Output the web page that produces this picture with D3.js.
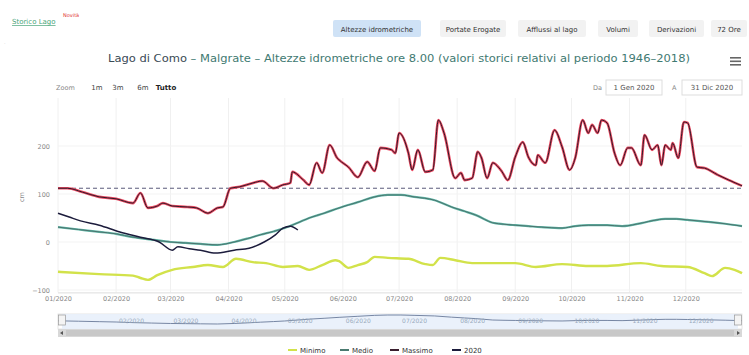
<!DOCTYPE html>
<html><head><meta charset="utf-8">
<script src="https://cdn.jsdelivr.net/npm/d3@7"></script>
<style>body{margin:0;background:#fff}svg{display:block;font-family:"DejaVu Sans",Verdana,sans-serif}</style>
</head><body><svg id="c" width="749" height="355"></svg>
<script>
// ---- data (day offset from 1 Jan 2020, value in cm) ----
const maxDays = [0,5,13,22,31,40,44,48,53,56,61,69,74,80,85,88,92,97,104,109,115,120,124,125,131,134,138,141,145,149,150,155,160,165,169,172,178,180,182,187,189,192,196,200,203,206,212,215,217,221,224,226,229,232,235,237,240,244,248,251,255,256,260,265,269,273,276,280,283,285,288,290,293,297,300,304,306,311,313,317,320,322,324,327,328,331,334,336,341,345,352,358,365];
const maxVals = [112,112,104,94,90,81,102,71,75,81,75,73,71,60,71,73,112,115,123,127,112,119,123,146,129,119,165,144,202,175,171,156,135,167,148,196,192,185,227,185,150,192,146,150,254,227,133,144,129,133,188,175,133,165,156,146,129,177,208,177,160,181,165,233,198,150,175,254,227,244,227,254,248,185,160,196,196,160,223,192,202,160,202,192,206,175,250,248,156,154,140,129,117];
const medDays = [0,11,22,31,40,50,60,68,76,85,94,101,108,115,121,128,134,142,150,160,169,176,183,190,201,210,217,223,232,238,244,251,258,269,276,283,293,301,312,318,324,330,336,347,356,365];
const medVals = [31,26,21,17,10,5,0,-2,-4,-6,0,7,15,22,29,40,50,60,71,83,94,98,98,94,87,73,64,56,40,37,35,33,31,29,33,35,35,33,40,45,48,48,46,42,38,33];
const minDays = [0,22,40,44,48,53,61,72,80,88,95,104,111,120,128,134,141,148,150,155,160,165,169,176,187,196,200,204,212,221,232,244,255,269,283,293,311,322,336,345,349,356,361,365];
const minVals = [-62,-67,-70,-75,-79,-69,-58,-52,-48,-52,-35,-42,-44,-52,-50,-58,-48,-38,-40,-54,-48,-42,-31,-33,-35,-46,-48,-33,-38,-44,-44,-44,-52,-46,-50,-50,-44,-50,-52,-65,-71,-54,-58,-65];
const curDays = [0,6,12,22,33,44,54,61,64,70,76,84,94,102,110,116,120,124,128];
const curVals = [60,52,44,35,21,10,0,-17,-10,-14,-17,-23,-17,-13,0,15,29,33,25];
const refLevel = 112;
const yTicks = [-100,0,100,200];
const monthLabels = ["01/2020","02/2020","03/2020","04/2020","05/2020","06/2020","07/2020","08/2020","09/2020","10/2020","11/2020","12/2020"];
const tabs = ["Altezze idrometriche","Portate Erogate","Afflussi al lago","Volumi","Derivazioni","72 Ore"];
const zoomBtns = ["1m","3m","6m","Tutto"];
const legendNames = ["Minimo","Medio","Massimo","2020"];
const titleStart = "Lago di Como";
const titleRest = " – Malgrate – Altezze idrometriche ore 8.00 (valori storici relativi al periodo 1946–2018)";

const base = new Date(2020,0,1);
const toSeries = (days, vals) => days.map((d,i)=>({date:d3.timeDay.offset(base,d), v:vals[i]}));
const sMax = toSeries(maxDays,maxVals), sMed = toSeries(medDays,medVals),
      sMin = toSeries(minDays,minVals), sCur = toSeries(curDays,curVals);

const svg = d3.select("#c");
svg.append("rect").attr("width",749).attr("height",355).attr("fill","#fff");

const L=58, R=742, T=98, B=292.4;
const x = d3.scaleTime().domain([base,new Date(2020,11,31)]).range([L,R]);
const y = d3.scaleLinear().domain([-105,300]).range([B,T]);

// header
svg.append("text").attr("x",12).attr("y",24).attr("font-size",7).attr("fill","#4aa57a")
  .attr("text-decoration","underline").text("Storico Lago");
svg.append("text").attr("x",63).attr("y",17).attr("font-size",5).attr("fill","#e03030").text("Novità");
svg.append("text").attr("x",4).attr("y",45).attr("font-size",5).attr("fill","#ccc").text("·");

const tabX = [333,440,518,598,649,711], tabW=[88,66,68,40,55,36];
tabs.forEach((t,i)=>{
  const g = svg.append("g");
  g.append("rect").attr("x",tabX[i]).attr("y",20).attr("width",tabW[i]).attr("height",17).attr("rx",2)
    .attr("fill", i===0?"#cfe2f6":"#f2f2f2");
  g.append("text").attr("x",tabX[i]+tabW[i]/2).attr("y",31.5).attr("text-anchor","middle")
    .attr("font-size",7).attr("fill","#333").text(t);
});

// title
const title = svg.append("text").attr("x",399).attr("y",62).attr("text-anchor","middle")
  .attr("font-size",11).attr("fill","#3f7a72");
title.append("tspan").attr("fill","#3a4a55").text(titleStart);
title.append("tspan").text(titleRest);
title.attr("textLength",582).attr("lengthAdjust","spacingAndGlyphs");

// hamburger
[0,3.5,7].forEach(o=>svg.append("rect").attr("x",730).attr("y",57+o).attr("width",11).attr("height",1.6).attr("fill","#666"));

// range selector
svg.append("text").attr("x",56).attr("y",90).attr("font-size",6.5).attr("fill","#888").text("Zoom");
const zx=[97,118,143,166];
zoomBtns.forEach((b,i)=>svg.append("text").attr("x",zx[i]).attr("y",90).attr("text-anchor","middle")
  .attr("font-size",7).attr("font-weight", i===3?"bold":"normal").attr("fill", i===3?"#222":"#444").text(b));
svg.append("text").attr("x",593).attr("y",90).attr("font-size",6.5).attr("fill","#888").text("Da");
svg.append("rect").attr("x",606).attr("y",80).attr("width",56).attr("height",15).attr("fill","#fff").attr("stroke","#ddd");
svg.append("text").attr("x",634).attr("y",90).attr("text-anchor","middle").attr("font-size",7).attr("fill","#555").text("1 Gen 2020");
svg.append("text").attr("x",672).attr("y",90).attr("font-size",6.5).attr("fill","#888").text("A");
svg.append("rect").attr("x",682).attr("y",80).attr("width",60).attr("height",15).attr("fill","#fff").attr("stroke","#ddd");
svg.append("text").attr("x",712).attr("y",90).attr("text-anchor","middle").attr("font-size",7).attr("fill","#555").text("31 Dic 2020");

// grid
const months = d3.timeMonth.range(base,new Date(2020,11,31));
svg.append("g").selectAll("line").data(months).join("line")
  .attr("x1",d=>x(d)).attr("x2",d=>x(d)).attr("y1",T).attr("y2",B).attr("stroke","#f0f0f0");
svg.append("g").selectAll("line").data(yTicks).join("line")
  .attr("x1",L).attr("x2",R).attr("y1",d=>y(d)).attr("y2",d=>y(d)).attr("stroke","#f3f3f3");

// y axis labels
const ya = svg.append("g").attr("transform",`translate(${L-8},0)`)
  .call(d3.axisLeft(y).tickValues(yTicks).tickSize(0).tickPadding(0));
ya.select(".domain").remove();
ya.selectAll("text").attr("font-size",6.5).attr("fill","#888").attr("font-family","DejaVu Sans");
svg.append("text").attr("transform","translate(24,197) rotate(-90)").attr("text-anchor","middle")
  .attr("font-size",6.5).attr("fill","#888").text("cm");

// x axis
svg.append("line").attr("x1",L).attr("x2",R).attr("y1",B+0.5).attr("y2",B+0.5).attr("stroke","#ddd");
const xa = svg.append("g").attr("transform",`translate(0,${B})`)
  .call(d3.axisBottom(x).tickValues(months).tickSize(0).tickPadding(4).tickFormat((d,i)=>monthLabels[i]));
xa.select(".domain").remove();
xa.selectAll("text").attr("font-size",6.5).attr("fill","#888").attr("font-family","DejaVu Sans");

// reference dashed line
svg.append("line").attr("x1",L).attr("x2",R).attr("y1",y(refLevel)).attr("y2",y(refLevel))
  .attr("stroke","#5a5a7a").attr("stroke-width",1).attr("stroke-dasharray","4,3");

// lines
const line = d3.line().x(d=>x(d.date)).y(d=>y(d.v)).curve(d3.curveMonotoneX);
const draw = (s,c,w)=>svg.append("path").datum(s).attr("d",line).attr("fill","none")
  .attr("stroke",c).attr("stroke-width",w).attr("stroke-linejoin","round");
draw(sMin,"#d2e24a",2.4);
draw(sMed,"#5fb8a8",2.2);
draw(sMed,"#4a6a66",0.9);
draw(sMax,"#ec4a62",2.6);
draw(sMax,"#2e1a28",1.0);
draw(sCur,"#1c1c3c",1.5);

// navigator
const nT=314, nB=329;
svg.append("rect").attr("x",L).attr("y",nT).attr("width",R-L).attr("height",nB-nT).attr("fill","#fff").attr("stroke","#e6e6e6");
svg.append("rect").attr("x",L+4).attr("y",nT).attr("width",R-L-8).attr("height",nB-nT).attr("fill","#e8f0fb").attr("opacity",0.9);
const ny = d3.scaleLinear().domain(d3.extent(medVals)).range([nB-5,nT+1]);
const nline = d3.line().x(d=>x(d.date)).y(d=>ny(d.v));
svg.append("path").datum(sMed).attr("d",nline).attr("fill","none").attr("stroke","#6a7a9a").attr("stroke-width",0.9);
svg.append("g").selectAll("text").data(months.slice(1)).join("text")
  .attr("x",d=>x(d)+3).attr("y",nT+9).attr("font-size",6).attr("fill","#9ab")
  .text((d,i)=>monthLabels[i+1]);
[L+4,R-4].forEach(hx=>{
  svg.append("rect").attr("x",hx-3.5).attr("y",nT+1).attr("width",7).attr("height",10).attr("fill","#f4f4f4").attr("stroke","#999").attr("stroke-width",0.7);
});
// scrollbar
svg.append("rect").attr("x",L).attr("y",nB).attr("width",R-L).attr("height",8).attr("fill","#d8d8d8");
svg.append("rect").attr("x",L+8).attr("y",nB+1).attr("width",R-L-16).attr("height",6).attr("fill","#c8c8c8");
svg.append("path").attr("d",`M${L+5},${nB+2} l-3,2 l3,2 z`).attr("fill","#555");
svg.append("path").attr("d",`M${R-5},${nB+2} l3,2 l-3,2 z`).attr("fill","#555");

// legend
const legX=[288,340,390,452], legC=["#d2e24a","#4a7a70","#3a1e2e","#1c1c3c"];
legendNames.forEach((n,i)=>{
  svg.append("line").attr("x1",legX[i]).attr("x2",legX[i]+9).attr("y1",350).attr("y2",350).attr("stroke",legC[i]).attr("stroke-width",2);
  svg.append("text").attr("x",legX[i]+12).attr("y",352.5).attr("font-size",7).attr("fill","#333").text(n);
});
</script></body></html>
